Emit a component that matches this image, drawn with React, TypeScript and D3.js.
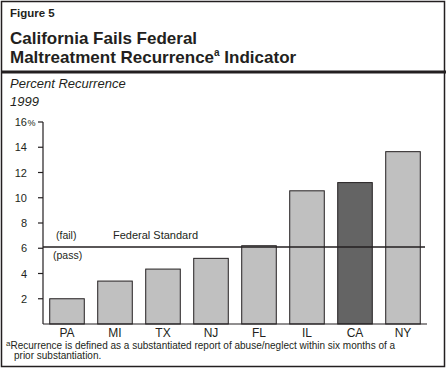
import React from 'react';
import * as d3 from 'd3';

const states = ['PA', 'MI', 'TX', 'NJ', 'FL', 'IL', 'CA', 'NY'];
const recurrence = [2.0, 3.4, 4.35, 5.2, 6.2, 10.55, 11.2, 13.65];
const highlight = 'CA';
const federalStandard = 6.1;
const yTicks = [2, 4, 6, 8, 10, 12, 14, 16];

const W = 447;
const H = 370;
const font = 'Liberation Sans, Arial, sans-serif';
const ink = '#231f20';

export default function App() {
  const x = d3.scaleBand<string>().domain(states).range([43, 427]).paddingInner(0.28).paddingOuter(0.14);
  const y = d3.scaleLinear().domain([0, 16]).range([324, 122]);

  return (
    <svg width={W} height={H} style={{ position: 'absolute', left: 0, top: 0 }} fontFamily={font}>
      <rect x={0} y={0} width={W} height={H} fill="#fff" />
      {/* frame */}
      <rect x={1.5} y={1.5} width={443} height={365} fill="none" stroke={ink} strokeWidth={1.5} />
      <rect x={1} y={70.5} width={445} height={3} fill={ink} />

      {/* header */}
      <text x={10} y={17} fontSize={11.5} fontWeight="bold" fill={ink}>Figure 5</text>
      <text x={10} y={44} fontSize={17} fontWeight="bold" fill={ink}>California Fails Federal</text>
      <text x={10} y={63} fontSize={17} fontWeight="bold" fill={ink}>
        Maltreatment Recurrence<tspan fontSize={10} dy={-7}>a</tspan>
        <tspan dy={7}> Indicator</tspan>
      </text>
      <text x={10} y={88} fontSize={13} fontStyle="italic" fill={ink}>Percent Recurrence</text>
      <text x={10} y={106} fontSize={13} fontStyle="italic" fill={ink}>1999</text>

      {/* y axis */}
      <line x1={43} x2={43} y1={y(16)} y2={y(0)} stroke={ink} strokeWidth={1.2} />
      {yTicks.map(t => (
        <g key={t}>
          <line x1={38} x2={43} y1={y(t)} y2={y(t)} stroke={ink} strokeWidth={1.2} />
          <text x={27} y={y(t) + 4} fontSize={11} textAnchor="end" fill={ink}>{t}</text>
          {t === 16 && <text x={27.5} y={y(t) + 4} fontSize={9} fill={ink}>%</text>}
        </g>
      ))}

      {/* bars */}
      {states.map((s, i) => (
        <rect key={s} x={x(s)} y={y(recurrence[i])} width={x.bandwidth()} height={y(0) - y(recurrence[i])}
          fill={s === highlight ? '#646464' : '#c0c0c0'} stroke={ink} strokeWidth={1} />
      ))}

      {/* baseline */}
      <line x1={43} x2={427} y1={y(0)} y2={y(0)} stroke={ink} strokeWidth={1.2} />

      {/* federal standard */}
      <line x1={43} x2={425} y1={y(federalStandard)} y2={y(federalStandard)} stroke={ink} strokeWidth={1.5} />
      <text x={56} y={239} fontSize={10.5} fill={ink}>(fail)</text>
      <text x={53} y={259} fontSize={10.5} fill={ink}>(pass)</text>
      <text x={113} y={239} fontSize={11} fill={ink}>Federal Standard</text>

      {/* category labels */}
      {states.map(s => (
        <text key={s} x={(x(s) ?? 0) + x.bandwidth() / 2} y={336.5} fontSize={12} textAnchor="middle" fill={ink}>{s}</text>
      ))}

      {/* footnote */}
      <text x={6} y={349} fontSize={10} fill={ink}>
        <tspan fontSize={8} dy={-3}>a</tspan>
        <tspan dy={3}>Recurrence is defined as a substantiated report of abuse/neglect within six months of a</tspan>
      </text>
      <text x={14} y={359} fontSize={10} fill={ink}>prior substantiation.</text>
    </svg>
  );
}
